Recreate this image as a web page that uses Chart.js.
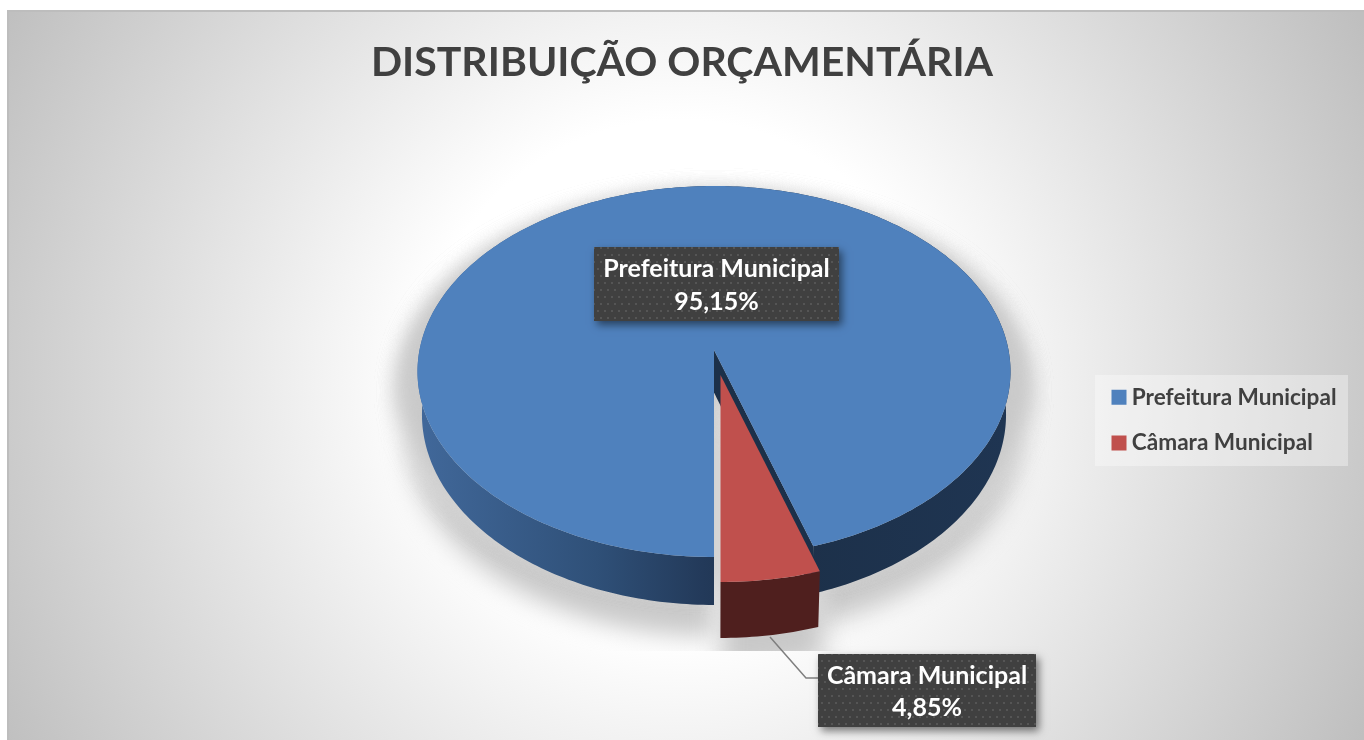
<!DOCTYPE html>
<html>
<head>
<meta charset="utf-8">
<title>Distribuição orçamentária</title>
<script src="https://cdn.jsdelivr.net/npm/chart.js@4"></script>
<style>
  html, body { margin: 0; padding: 0; background: #fff; }
  #wrap { position: absolute; left: 0; top: 0; width: 1364px; height: 740px; }
</style>
</head>
<body>
<div id="wrap"><canvas id="myChart" width="1364" height="740"></canvas></div>
<script>
const titleText = "DISTRIBUIÇÃO ORÇAMENTÁRIA";
const categories = ["Prefeitura Municipal", "Câmara Municipal"];
const shares = [95.15, 4.85];
const shareLabels = ["95,15%", "4,85%"];
const sliceColors = ["#4F81BD", "#C0504D"];
const rimColors = [["#41689A", "#2F5078", "#233A5A", "#1C3049", "#1F3552"], ["#4F1F1E", "#4F1F1E", "#4F1F1E", "#4F1F1E", "#4F1F1E"]];

// tilted pie: a circle seen in perspective, fitted on the reference
const cx = 714, cy = 350, rx = 294.5, ry = 183, tilt = 0.1159;
const depths = [42.4, 49.5];
const exploded = [{ x: 0, y: 0 }, { x: 6.5, y: 25 }];
const labelBoxes = [
  { x: 594, y: 247, w: 245, h: 74 },
  { x: 818, y: 654, w: 218, h: 73 },
];

function project(angle, r, slice, lower) {
  const u = r * Math.cos(angle), v = r * Math.sin(angle);
  const w = 1 / (1 - tilt * v);
  let x = cx + rx * u * w + exploded[slice].x;
  let y = cy + ry * v * w + exploded[slice].y;
  if (lower) {
    x = cx + (x - cx) * 0.985;
    y += depths[slice] * w;
  }
  return [x, y];
}

function tracePoints(ctx, pts) {
  pts.forEach((p, i) => i ? ctx.lineTo(p[0], p[1]) : ctx.moveTo(p[0], p[1]));
}

function rimPoints(arc, slice, lower) {
  const pts = [];
  const n = Math.ceil((arc.endAngle - arc.startAngle) * 60);
  for (let i = 0; i <= n; i++) {
    pts.push(project(arc.startAngle + (arc.endAngle - arc.startAngle) * i / n, 1, slice, lower));
  }
  return pts;
}

function rimGradient(ctx, slice) {
  const g = ctx.createLinearGradient(cx - rx, 0, cx + rx, 0);
  const c = rimColors[slice];
  g.addColorStop(0, c[0]);
  g.addColorStop(0.3, c[1]);
  g.addColorStop(0.48, c[2]);
  g.addColorStop(0.62, c[3]);
  g.addColorStop(1, c[4]);
  return g;
}

function drawWall(ctx, arc, slice, fill) {
  const top = rimPoints(arc, slice, false);
  const low = rimPoints(arc, slice, true).reverse();
  ctx.beginPath();
  tracePoints(ctx, top.concat(low));
  ctx.closePath();
  ctx.fillStyle = fill || rimGradient(ctx, slice);
  ctx.fill();
}

function drawTop(ctx, arc, slice, fill) {
  ctx.beginPath();
  tracePoints(ctx, [project(0, 0, slice, false)].concat(rimPoints(arc, slice, false)));
  ctx.closePath();
  ctx.fillStyle = fill || arc.options.backgroundColor;
  ctx.fill();
}

const pie3d = {
  id: "pie3d",
  beforeDatasetsDraw(chart) {
    const ctx = chart.ctx;
    const arcs = chart.getDatasetMeta(0).data;
    const blue = arcs[0], red = arcs[1];

    // floor shadow, a blurred and enlarged copy of the pie, cut at the bottom like the original
    ctx.save();
    ctx.beginPath();
    ctx.rect(0, 0, 1364, 651);
    ctx.clip();
    ctx.filter = "blur(12px)";
    ctx.translate(cx, cy + 19);
    ctx.scale(1.05, 1.05);
    ctx.translate(-cx, -cy);
    const shade = "#C9C9C9";
    drawWall(ctx, blue, 0, shade);
    drawTop(ctx, blue, 0, shade);
    drawTop(ctx, blue, 0, shade);
    drawWall(ctx, red, 1, shade);
    drawTop(ctx, red, 1, shade);
    ctx.restore();

    drawWall(ctx, blue, 0);

    // inner cut of the big slice, seen behind the red one
    const a = project(0, 0, 0, false);
    const b = project(blue.endAngle, 1, 0, false);
    const c = project(blue.endAngle, 1, 0, true);
    ctx.beginPath();
    tracePoints(ctx, [a, b, [b[0], c[1]], [a[0], a[1] + depths[0]]]);
    ctx.closePath();
    ctx.fillStyle = "#1C3049";
    ctx.fill();

    drawTop(ctx, blue, 0);
    drawWall(ctx, red, 1);
    drawTop(ctx, red, 1);
    return false;
  },
};

const panel = {
  id: "panel",
  afterLayout(chart) {
    const lg = chart.legend;
    const w = lg.width, h = lg.height;
    lg.left = 1094.5; lg.right = lg.left + w;
    lg.top = 363; lg.bottom = lg.top + h;
  },
  beforeDraw(chart) {
    const ctx = chart.ctx;
    ctx.fillStyle = "#fff";
    ctx.fillRect(0, 0, 1364, 740);
    const g = ctx.createRadialGradient(680, 380, 260, 680, 380, 770);
    g.addColorStop(0, "#ffffff");
    g.addColorStop(1, "#bfbfbf");
    ctx.fillStyle = g;
    ctx.fillRect(7, 11, 1357, 729);
    ctx.fillStyle = "#bdbdbd";
    ctx.fillRect(7, 10, 1357, 2);
    ctx.fillRect(7, 10, 2, 730);
    // legend plate
    ctx.fillStyle = "rgba(255,255,255,0.35)";
    ctx.fillRect(1095, 375, 253, 91);
  },
};

function dotPattern(ctx) {
  const c = document.createElement("canvas");
  c.width = 14; c.height = 14;
  const p = c.getContext("2d");
  p.fillStyle = "#404040";
  p.fillRect(0, 0, 14, 14);
  p.fillStyle = "#555555";
  p.fillRect(2, 2, 2, 2);
  p.fillRect(9, 2, 2, 2);
  p.fillRect(5, 9, 2, 2);
  p.fillRect(12, 9, 2, 2);
  return ctx.createPattern(c, "repeat");
}

const labels = {
  id: "labels",
  afterDraw(chart) {
    const ctx = chart.ctx;
    // leader line for the small slice
    ctx.strokeStyle = "#7F7F7F";
    ctx.lineWidth = 1.5;
    ctx.beginPath();
    ctx.moveTo(770, 637);
    ctx.lineTo(806, 678);
    ctx.lineTo(818, 678);
    ctx.stroke();

    categories.forEach((name, i) => {
      const b = labelBoxes[i];
      ctx.save();
      ctx.shadowColor = "rgba(0,0,0,0.5)";
      ctx.shadowBlur = 8;
      ctx.shadowOffsetX = 3;
      ctx.shadowOffsetY = 4;
      ctx.fillStyle = "#404040";
      ctx.fillRect(b.x, b.y, b.w, b.h);
      ctx.restore();
      ctx.fillStyle = dotPattern(ctx);
      ctx.fillRect(b.x, b.y, b.w, b.h);
      ctx.fillStyle = "#fff";
      ctx.font = "bold 25px Lato";
      ctx.textAlign = "center";
      ctx.textBaseline = "middle";
      ctx.fillText(name, b.x + b.w / 2, b.y + b.h * 0.30);
      ctx.fillText(shareLabels[i], b.x + b.w / 2, b.y + b.h * 0.74);
    });
  },
};

new Chart(document.getElementById("myChart").getContext("2d"), {
  type: "pie",
  data: {
    labels: categories,
    datasets: [{ data: shares, backgroundColor: sliceColors, borderWidth: 0 }],
  },
  options: {
    responsive: false,
    animation: false,
    rotation: 180,
    layout: { padding: 0 },
    plugins: {
      title: {
        display: true,
        text: titleText,
        color: "#404040",
        font: { family: "Lato", weight: "bold", size: 41 },
        padding: { top: 38, bottom: 20 },
      },
      legend: {
        position: "right",
        align: "start",
        labels: {
          usePointStyle: true,
          pointStyle: "rect",
          boxWidth: 3,
          boxHeight: 15,
          padding: 23,
          color: "#404040",
          font: { family: "Lato", weight: "bold", size: 22.6 },
        },
      },
      tooltip: { enabled: false },
    },
  },
  plugins: [panel, pie3d, labels],
});
</script>
</body>
</html>
